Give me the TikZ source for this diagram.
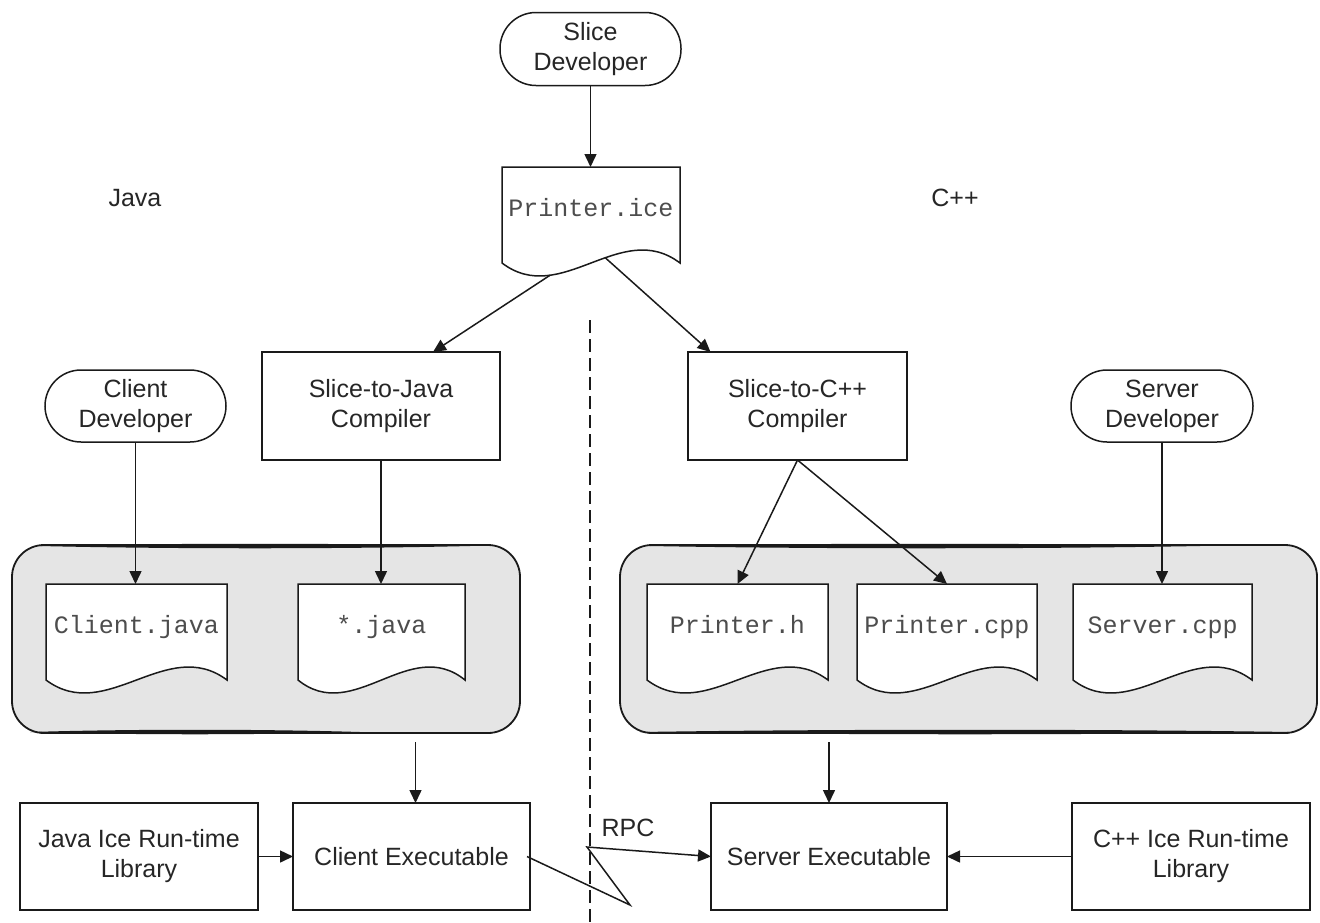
\documentclass[tikz,border=0pt]{standalone}
\usepackage{fontspec}
\setmainfont{Liberation Sans}
\newfontfamily\monofnt{Liberation Mono}
\usetikzlibrary{arrows.meta,calc}
\definecolor{linec}{HTML}{1A1A1A}
\definecolor{txtc}{HTML}{262626}
\definecolor{monoc}{HTML}{4D4D4D}
\definecolor{grpfill}{HTML}{E5E5E5}
\pgfdeclarelayer{groupbg}
\pgfdeclarelayer{docbg}
\pgfsetlayers{groupbg,docbg,main}
\newcommand\drawdoc[1]{\draw[docline] (#1.north west) -- (#1.north east) -- (#1.south east)
  .. controls ($(#1.south east)!0.333!(#1.south west)+(0,-45)$) and ($(#1.south east)!0.667!(#1.south west)+(0,45)$) .. (#1.south west)
  coordinate[pos=0.42] (#1-hi) coordinate[pos=0.73] (#1-lo) -- cycle;}
\newcommand\brushstroke[3]{\fill[linec] (#1) .. controls ($(#1)!0.3!(#2)+(0,-#3)$) and ($(#1)!0.7!(#2)+(0,-#3)$) .. (#2)
  .. controls ($(#1)!0.7!(#2)+(0,#3)$) and ($(#1)!0.3!(#2)+(0,#3)$) .. (#1) -- cycle;}
\begin{document}
\begin{tikzpicture}[x=1pt,y=-1pt,
  every node/.style={font=\fontsize{25}{30}\selectfont, text=txtc, align=center, inner sep=0pt, outer sep=0pt},
  box/.style={draw=linec, line width=1.5pt, rectangle, minimum width=238pt, minimum height=108pt},
  stadium/.style={draw=linec, line width=1.5pt, rectangle, rounded corners=36pt, minimum width=181pt, minimum height=73pt},
  doc/.style={minimum width=181pt, minimum height=96pt, text height=17pt, text depth=14pt, font=\monofnt\fontsize{25}{30}\selectfont, text=monoc},
  docline/.style={draw=linec, line width=1.5pt, fill=white},
  group/.style={draw=linec, fill=grpfill, line width=1.8pt, rounded corners=32pt},
  arr/.style={draw=linec, line width=1.5pt, -{Triangle[length=13pt,width=12pt]}},
  dashline/.style={draw=linec, line width=1.4pt, dash pattern=on 13pt off 6pt}
  ]
\useasboundingbox (0,0) rectangle (1320,922);

% top
\node[stadium] (slice) at (590.5,49) {Slice\\Developer};
\node[doc, minimum width=178pt] (ice) at (591,215) {Printer.ice};
\node (java) at (135,198) {Java};
\node (cpp) at (955,198) {C++};

% compilers and developers
\node[box] (s2j) at (381,406) {Slice-to-Java\\Compiler};
\node[box, minimum width=219pt] (s2c) at (797.5,406) {Slice-to-C++\\Compiler};
\node[stadium, minimum height=72pt] (cdev) at (135.5,406) {Client\\Developer};
\node[stadium, minimum height=72pt, minimum width=182pt] (sdev) at (1162,406) {Server\\Developer};

% groups
\begin{pgfonlayer}{groupbg}
\node[group, minimum width=508pt, minimum height=188pt] (lg) at (266,639) {};
\node[group, minimum width=697pt, minimum height=188pt] (rg) at (968.5,639) {};
\brushstroke{40,546}{470,546}{3}
\brushstroke{30,732}{360,732}{3}
\brushstroke{650,546}{1200,546}{3}
\brushstroke{640,732}{1290,732}{3}
\end{pgfonlayer}

% documents
\node[doc] (cj) at (136.5,632) {Client.java};
\node[doc, minimum width=167pt] (sj) at (381.5,632) {*.java};
\node[doc] (ph) at (737.5,632) {Printer.h};
\node[doc, minimum width=180pt] (pc) at (947,632) {Printer.cpp};
\node[doc, minimum width=179pt] (sc) at (1162.5,632) {Server.cpp};

\begin{pgfonlayer}{docbg}
\drawdoc{ice}
\drawdoc{cj}
\drawdoc{sj}
\drawdoc{ph}
\drawdoc{pc}
\drawdoc{sc}
\end{pgfonlayer}

% bottom row
\node[box, minimum height=107pt] (jlib) at (139,856.5) {Java Ice Run-time\\Library};
\node[box, minimum height=107pt, minimum width=237pt] (cexe) at (411.5,856.5) {Client Executable};
\node[box, minimum height=107pt, minimum width=236pt] (sexe) at (829,856.5) {Server Executable};
\node[box, minimum height=107pt] (clib) at (1191,856.5) {C++ Ice Run-time\\Library};
\node (rpc) at (628,828) {RPC};

% divider
\coordinate (dtop) at (590,320);
\coordinate (dbot) at (590,922);
\draw[dashline] (dtop) -- (dbot);

% connectors
\draw[arr] (slice.south) -- (slice.south |- ice.north);
\draw[arr] (ice-lo) -- ([xshift=52pt]s2j.north);
\draw[arr] (ice-hi) -- ([xshift=-87pt]s2c.north);
\draw[arr] (cdev.south) -- (cdev.south |- cj.north);
\draw[arr] (s2j.south) -- (s2j.south |- sj.north);
\draw[arr] (s2c.south) -- (ph.north);
\draw[arr] (s2c.south) -- (pc.north);
\draw[arr] (sdev.south) -- (sdev.south |- sc.north);
\draw[arr, shorten <=9pt] ([xshift=4pt]cexe.north |- lg.south) -- ([xshift=4pt]cexe.north);
\draw[arr, shorten <=9pt] (sexe.north |- rg.south) -- (sexe.north);
\draw[arr] (jlib) -- (cexe);
\draw[arr] (clib) -- (sexe);
\coordinate (rpcA) at (630,905);
\coordinate (rpcB) at (587,847);
\draw[arr] ([xshift=-3pt]cexe.east) -- (rpcA) -- (rpcB) -- (sexe.west);
\end{tikzpicture}
\end{document}
